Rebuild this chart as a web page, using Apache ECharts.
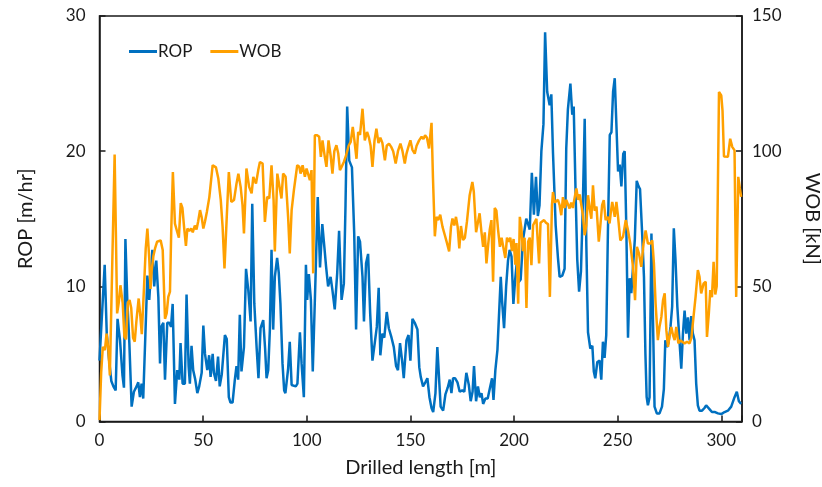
<!DOCTYPE html>
<html>
<head>
<meta charset="utf-8">
<script src="https://cdn.jsdelivr.net/npm/echarts@6/dist/echarts.min.js"></script>
<style>html,body{margin:0;padding:0;background:#fff;}#c{width:822px;height:487px;}</style>
</head>
<body>
<div id="c"></div>
<script>
// Drilled length [m] and ROP [m/hr]
const ropX = [0,2.5,3.5,4.6,5.7,6.7,7.8,8.7,9.9,11.1,11.8,12.5,13.4,14.4,15.5,16.6,17.9,18.7,19.5,20.3,21.1,21.8,23.1,24.0,25.5,26.4,27.4,28.4,29.2,29.8,30.8,31.6,32.7,33.7,34.5,35.3,36.4,37.5,38.5,39.1,40.1,41.2,42.0,43.0,43.6,44.4,45.2,46.2,47.2,48.1,49.3,50.1,50.9,52.0,52.9,53.6,54.6,55.2,56.2,57.2,58.0,59.0,60.5,61.4,62.4,63.2,64.2,65.3,66.1,66.9,67.7,68.5,69.7,70.7,71.8,72.9,73.7,74.7,75.8,76.7,77.7,79.0,79.9,80.6,81.4,82.2,83.0,83.8,84.6,85.7,86.5,87.3,88.3,89.1,89.7,91.0,91.8,92.7,93.5,94.7,95.5,96.7,97.5,98.6,99.6,100.2,101.0,102.0,102.9,104.2,105.3,106.4,107.5,108.5,109.3,110.3,111.5,112.4,113.5,114.7,115.6,116.8,117.9,118.7,119.5,120.5,121.8,122.9,123.8,124.8,125.7,126.9,127.6,128.6,129.6,130.6,131.7,132.8,133.8,134.7,135.5,136.5,137.4,138.6,139.6,140.9,142.0,143.1,144.0,145.0,146.0,146.8,148.1,149.1,150.0,151.0,152.1,153.4,154.3,155.0,156.1,157.2,158.2,159.2,160.2,161.0,162.1,163.0,163.8,164.6,165.8,166.9,168.0,169.0,169.8,170.6,171.6,172.7,173.8,175.0,176.0,177.0,178.2,179.1,180.0,180.7,181.7,182.6,183.5,184.3,185.1,186.2,187.3,188.4,189.4,190.1,191.0,192.0,192.8,193.6,194.2,195.2,196.2,197.1,197.9,198.8,199.7,200.5,201.3,202.2,203.2,204.3,205.9,206.8,207.6,208.6,209.6,210.6,211.5,212.3,213.2,214.2,215.0,216.0,217.2,218.0,218.8,220.1,221.2,222.0,223.3,224.4,225.2,226.0,227.2,228.1,228.8,229.7,230.5,231.4,232.3,233.2,234.1,234.9,235.7,236.8,237.8,238.5,239.2,240.2,241.3,242.1,242.9,243.7,244.5,245.3,246.2,247.0,247.8,248.6,249.4,250.2,251.0,251.8,252.7,253.4,254.2,255.0,255.8,256.6,257.4,258.3,259.2,260.1,260.8,261.8,262.7,263.4,264.0,264.6,265.4,266.3,267.0,267.8,268.9,270.2,271.4,272.3,273.0,273.8,274.5,275.5,276.3,277.1,277.9,278.8,279.9,280.7,281.5,282.3,283.1,283.9,284.7,285.5,286.3,287.1,287.9,288.7,289.5,290.7,291.9,292.7,293.5,294.4,295.5,297.0,298.4,300.0,301.6,303.2,304.8,306.4,307.5,308.5,309.6];
const ropY = [4.5,11.6,6.5,4.6,3.0,2.6,2.3,7.6,6.0,3.4,2.5,13.5,9.0,5.8,1.1,2.2,2.6,2.9,1.8,2.8,1.7,1.6,10.8,9.0,12.7,10.0,11.9,9.2,4.3,7.0,7.3,3.1,7.3,7.3,7.0,8.7,1.3,3.8,3.1,5.8,2.8,2.8,9.4,4.1,2.8,5.6,3.8,3.1,2.1,2.6,3.6,7.1,5.0,3.8,4.9,3.3,5.0,3.6,3.0,4.8,2.6,3.5,6.4,6.1,1.8,1.4,1.4,3.1,4.1,3.1,7.9,3.7,5.5,11.3,9.7,7.4,16.1,8.7,5.5,3.2,6.9,7.5,5.4,3.2,3.8,6.8,12.7,6.8,10.7,12.1,11.0,8.7,4.3,2.3,2.1,3.9,5.9,2.7,2.8,2.6,2.8,6.6,4.3,1.8,11.6,9.0,10.9,9.0,3.7,10.5,16.6,11.4,14.6,12.9,11.5,10.0,10.7,9.7,8.3,11.0,14.1,9.0,10.2,16.0,23.3,19.3,18.8,13.9,6.8,13.7,13.3,10.7,7.4,11.7,12.4,8.0,4.5,5.8,7.0,9.9,4.9,6.5,6.2,8.1,6.9,6.2,5.5,4.1,3.8,5.8,4.5,3.2,6.0,6.4,4.5,7.6,7.3,6.8,4.0,3.3,2.6,2.9,3.2,1.8,1.0,0.7,2.1,5.5,3.3,1.1,0.8,2.0,2.5,3.1,2.1,3.2,3.2,2.9,2.2,2.3,2.2,3.6,2.7,1.5,2.2,4.1,1.5,2.6,1.8,2.1,1.3,1.7,1.7,2.5,3.2,1.6,3.8,5.3,5.3,10.7,9.0,6.9,10.0,11.9,12.7,12.2,8.7,10.4,11.7,10.3,10.5,13.4,15.0,14.6,14.2,18.4,15.3,18.1,15.2,16.0,20.0,22.0,28.8,24.4,23.4,24.2,19.9,14.5,12.1,10.7,10.8,11.3,20.2,23.1,25.0,22.7,23.3,17.0,12.0,9.6,11.1,16.0,22.4,13.0,6.6,5.4,5.6,3.7,3.2,4.4,4.5,3.1,5.9,4.7,6.4,14.0,21.2,21.4,24.4,25.4,25.4,18.5,19.0,17.4,19.8,20.0,14.2,6.2,10.6,9.5,9.5,13.5,17.8,17.4,17.2,14.0,10.7,5.0,1.8,1.2,1.8,13.9,8.0,1.1,0.6,0.6,1.1,2.4,6.0,5.5,5.8,7.0,8.5,14.3,12.0,8.5,5.8,3.9,6.5,8.2,6.5,7.7,6.0,7.8,6.5,6.0,2.8,1.2,0.8,0.8,1.0,1.2,1.2,0.9,0.7,0.7,0.6,0.55,0.7,0.8,1.1,1.8,2.2,1.5,1.3];

// Drilled length [m] and WOB [kN]
const wobX = [0,0.8,1.6,2.6,3.4,4.3,5.0,6.2,7.3,7.9,8.5,9.3,10.1,11.2,12.0,12.8,13.7,14.5,15.3,16.2,17.0,17.9,18.9,19.6,20.4,21.5,22.3,23.1,24.0,24.6,25.2,26.0,26.8,27.8,28.6,29.5,30.5,31.6,32.4,33.2,34.0,34.6,35.4,36.4,37.5,38.3,39.2,40.0,40.8,41.7,42.4,43.3,44.2,45.0,46.0,46.8,47.6,48.5,49.3,50.1,50.9,51.8,53.0,53.8,54.6,55.4,56.2,57.3,58.5,59.4,60.3,61.4,62.4,63.6,64.9,66.1,67.0,68.1,69.0,69.7,70.9,72.2,73.4,74.2,75.5,76.6,77.4,78.7,79.8,80.9,81.9,83.0,84.0,84.6,85.8,86.7,87.8,88.6,89.8,91.0,91.8,92.7,93.8,95.4,96.4,97.0,98.0,99.1,99.9,100.7,101.5,102.3,103.1,103.9,105.0,106.0,106.8,107.6,108.7,109.5,110.5,111.5,112.4,113.3,114.3,115.2,116.0,116.8,117.9,119.0,120.2,121.2,122.2,123.0,124.0,124.8,125.7,126.9,128.0,129.1,130.0,130.8,131.7,132.7,133.6,134.6,135.5,136.5,137.7,138.6,139.7,140.8,141.7,142.9,144.0,145.2,146.2,147.3,148.1,149.0,150.0,151.0,152.1,153.0,154.2,155.4,156.3,157.1,158.0,159.0,160.2,160.9,161.8,162.6,163.4,164.4,165.5,166.6,167.7,168.7,169.6,170.3,171.2,172.0,172.8,173.6,174.4,175.4,176.3,177.3,178.6,179.9,180.6,181.7,182.5,183.4,184.3,185.1,185.9,186.7,187.6,188.3,189.1,189.9,190.7,191.5,192.3,193.2,194.0,194.9,195.8,196.6,197.4,198.2,199.0,199.8,200.6,201.2,202.0,202.8,203.5,204.3,205.1,206.0,206.8,207.6,208.4,209.2,210.0,210.8,211.6,212.1,212.8,213.6,214.5,215.4,216.4,217.3,218.3,218.8,219.6,220.4,221.2,222.0,222.8,223.6,224.4,225.2,226.0,226.8,227.6,228.4,229.3,230.1,230.9,231.7,232.5,233.3,234.1,234.9,235.7,236.5,237.3,238.1,238.9,239.8,240.9,241.6,242.5,243.3,244.2,245.3,246.1,246.8,247.4,248.6,249.4,250.2,251.3,252.6,253.9,255.0,256.1,257.4,258.4,259.3,260.3,261.4,262.5,263.5,264.6,265.7,266.7,267.5,268.3,269.4,270.2,271.1,271.9,272.7,273.5,274.3,275.1,275.9,276.7,277.5,278.3,279.3,280.2,281.2,282.3,283.5,284.7,285.6,286.6,287.6,288.7,289.5,290.3,291.5,292.5,293.1,294.0,294.7,295.5,296.3,297.1,297.8,298.9,300.0,300.6,301.3,302.1,303.2,304.3,305.3,306.4,307.2,308.2,309.0,309.6];
const wobY = [0.5,18,27.6,26.4,32.5,26.4,17.0,60,98.8,70,40.0,44,50.4,43.7,31.4,30.4,44.0,44.9,42,31.0,29.5,38,45.5,40,32.3,50,64,71.4,60.3,49,56,61.2,64,66.5,67.1,67,63.4,38.0,40,46.1,48,70,92.3,73.2,70.1,68,80.8,79,72,65,71.4,70.5,71.4,70,72.5,71,74,78.2,75.5,71.4,74,77.5,83,83,94.8,94.5,94,90,82,72,56.6,75.7,92.3,81.2,81.9,88.0,91.7,86.8,80,69.6,93.6,86.8,84.4,90.5,88.0,93.0,96.0,95.4,73.8,83.1,82.5,94.8,81.9,62.9,91.7,92.3,82.5,91.7,90.5,75.7,62.2,78.2,85.6,94.8,94.2,91.7,94.8,90.5,93.6,93.0,89.3,93.0,54.8,105.9,105.9,105.3,97.9,104.0,97.9,94.2,104,98.5,91.7,100,102.2,99.1,93.0,94.2,96.0,98.5,102.0,103.4,109.0,104,97.2,107.1,106.0,115.7,104.0,107.1,105,102,94.2,104.0,108.3,103,105,103,96.6,102,102.8,101.5,100,95.4,100,102.8,100,95.4,99,101.5,104.0,100.5,99.1,102,104.0,105.3,104.5,105.9,105,101.0,110.5,90,68.5,75.7,74.5,76.5,72.0,69,65.9,62.9,72,75.1,72.5,75.7,72,64.0,72.3,67.1,68,74,83.7,88.6,85,70,70.5,77,70,64.6,70,58.5,66,71,74.5,51.7,79.0,78,71,64.6,68,68,60.5,68,66.5,68,63,67.5,58,66,43.6,75.7,72,63,68,42.0,66.5,68,57.8,72.6,72.6,75,74.5,58.5,73.5,74,74.5,73.5,73,46.1,80,84.9,81,81.5,82,80,76.3,83,79,82,81.5,78.8,81,79,83,86.2,82,84,80,76,68.9,72.6,83.7,79,75,87.4,78,79.5,66.5,72.0,80,81.9,74.5,75.7,73.3,78,81.2,75.7,81.2,75.7,67.0,68.3,74.5,70.7,65.8,57.2,44.9,64.6,62.1,57.2,65.8,70.7,65.8,65.8,67.0,58.5,43.7,30.1,35.0,38.7,44.9,47.4,33.8,27.6,32,35.0,32,30.1,35.0,28.9,30,29.5,28.9,29.5,28.9,31,38.7,46.1,56.0,53.5,47.4,51.1,51.7,31.3,40,48.6,46,59.1,47,50,121.9,120.6,115,98,97.9,97.9,104.6,101.6,100.3,46.1,90.5,86,83.1];

const xTicks = [0, 50, 100, 150, 200, 250, 300];

const zip = (xs, ys) => xs.map((x, i) => [x, ys[i]]);
const font = 'Lato, "Liberation Sans", sans-serif';
const txt = '#1a1a1a';

const chart = echarts.init(document.getElementById('c'));
chart.setOption({
  animation: false,
  backgroundColor: '#fff',
  grid: { left: 99.5, right: 80, top: 16, bottom: 65.5, show: true, borderColor: '#1a1a1a', borderWidth: 1.5,
          containLabel: false, outerBoundsMode: 'none' },
  legend: {
    left: 124, top: 38, itemWidth: 28, itemHeight: 3, itemGap: 18, icon: 'rect',
    textStyle: { fontFamily: font, fontSize: 17, color: txt, padding: [0, 0, 0, -4] },
    data: ['ROP', 'WOB']
  },
  xAxis: {
    type: 'value', min: 0, max: 310, interval: 50,
    name: 'Drilled length [m]', nameLocation: 'middle', nameGap: 36,
    nameTextStyle: { fontFamily: font, fontSize: 20, color: txt },
    axisLine: { show: true, lineStyle: { color: '#1a1a1a', width: 1.5 } },
    axisTick: { show: true, inside: true, length: 6, lineStyle: { color: '#1a1a1a', width: 1.5 } },
    axisLabel: { fontFamily: font, fontSize: 17, color: txt, margin: 11,
      formatter: v => xTicks.includes(v) ? String(v) : '' },
    splitLine: { show: false }
  },
  yAxis: [
    {
      type: 'value', min: 0, max: 30, interval: 10,
      name: 'ROP [m/hr]', nameLocation: 'middle', nameGap: 64, nameRotate: 90,
      nameTextStyle: { fontFamily: font, fontSize: 20, color: txt },
      axisLine: { show: true, lineStyle: { color: '#1a1a1a', width: 1.5 } },
      axisTick: { show: true, inside: true, length: 6, lineStyle: { color: '#1a1a1a', width: 1.5 } },
      axisLabel: { fontFamily: font, fontSize: 17, color: txt, margin: 14 },
      splitLine: { show: false }
    },
    {
      type: 'value', min: 0, max: 150, interval: 50, position: 'right',
      name: 'WOB [kN]', nameLocation: 'middle', nameGap: 60, nameRotate: -90,
      nameTextStyle: { fontFamily: font, fontSize: 20, color: txt },
      axisLine: { show: true, lineStyle: { color: '#1a1a1a', width: 1.5 } },
      axisTick: { show: true, inside: true, length: 6, lineStyle: { color: '#1a1a1a', width: 1.5 } },
      axisLabel: { fontFamily: font, fontSize: 17, color: txt, margin: 10 },
      splitLine: { show: false }
    }
  ],
  series: [
    { name: 'ROP', type: 'line', yAxisIndex: 0, symbol: 'none', data: zip(ropX, ropY),
      lineStyle: { color: '#0070C0', width: 2.5 }, itemStyle: { color: '#0070C0' } },
    { name: 'WOB', type: 'line', yAxisIndex: 1, symbol: 'none', data: zip(wobX, wobY),
      lineStyle: { color: '#FFA000', width: 2.5 }, itemStyle: { color: '#FFA000' } }
  ]
});
</script>
</body>
</html>
